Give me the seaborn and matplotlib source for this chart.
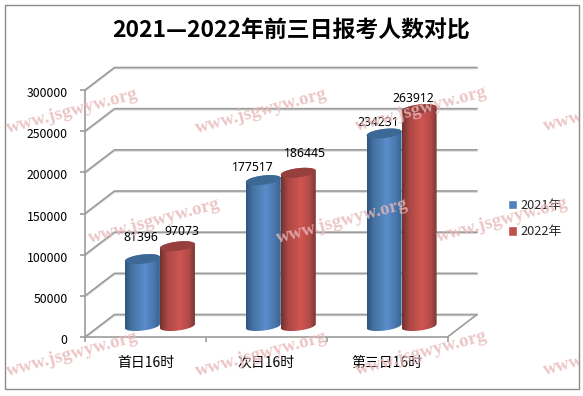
import numpy as np
import pandas as pd
import matplotlib
matplotlib.use("Agg")
import matplotlib.pyplot as plt
from matplotlib.colors import LinearSegmentedColormap
from matplotlib.patches import Polygon, Rectangle
from matplotlib.transforms import IdentityTransform, ScaledTranslation
import seaborn as sns

categories = ["首日16时", "次日16时", "第三日16时"]
years = ["2021年", "2022年"]
values_2021 = [81396, 177517, 234231]
values_2022 = [97073, 186445, 263912]
y_ticks = [0, 50000, 100000, 150000, 200000, 250000, 300000]
title_text = "2021—2022年前三日报考人数对比"
watermark_text = "www.jsgwyw.org"

W, H = 583, 396
sns.set_style("white")
CJK = ["Noto Sans CJK SC", "DejaVu Sans"]
plt.rcParams["font.family"] = CJK

fig = plt.figure(figsize=(W / 100, H / 100), dpi=100, facecolor="white")


def axes_px(x0, x1, ytop, ybot, **kw):
    return fig.add_axes([x0 / W, 1 - ybot / H, (x1 - x0) / W, (ybot - ytop) / H], **kw)


GRID = "#9c9c9c"
GRID2 = "#d6d6d6"
DX, DY = 29.5, 22.5
LW = 1.2

# front plane: the value scale and category scale
ax = axes_px(85, 447.5, 90, 337, zorder=1)
ax.set_xlim(-0.5, 2.5)
ax.set_ylim(0, 300000)
ax.set_facecolor("none")
ax.set_yticks(y_ticks)
ax.set_yticklabels([str(v) for v in y_ticks], fontsize=8.8, color="black")
ax.set_xticks([0, 1, 2])
ax.set_xticklabels(categories, fontsize=10, color="black")
ax.set_xticks([-0.5, 0.5, 1.5, 2.5], minor=True)
ax.tick_params(axis="y", length=3.5, width=LW, color=GRID, pad=9, left=True)
ax.tick_params(axis="x", which="major", length=0, pad=13.5)
ax.tick_params(axis="x", which="minor", length=3.5, width=LW, color=GRID, bottom=True)
for lab in ax.get_yticklabels():
    lab.set_transform(lab.get_transform() + ScaledTranslation(0, -1.5 / 72, fig.dpi_scale_trans))
for s in ("top", "right"):
    ax.spines[s].set_visible(False)
for s in ("left", "bottom"):
    ax.spines[s].set_color(GRID)
    ax.spines[s].set_linewidth(LW)

# receding floor and wall gridlines, derived from the front axes scale
fig.canvas.draw()
for v in y_ticks:
    xl, yv = ax.transData.transform((-0.5, v))
    xr, _ = ax.transData.transform((2.5, v))
    xs = [xl, xl + DX, xr + DX]
    ys = [yv, yv + DY, yv + DY]
    for off, col, zo in ((-1, GRID2, 0), (0, GRID, 1)):
        ax.add_line(plt.Line2D(xs, [y + off for y in ys], color=col, lw=LW, zorder=zo,
                               transform=IdentityTransform(), clip_on=False))
    if v == 0:
        ax.add_line(plt.Line2D([xr, xr + DX], [yv, yv + DY], color=GRID, lw=LW,
                               transform=IdentityTransform(), clip_on=False))

px_x = 3 / 362.5
px_y = 300000 / 246.5
B, TILT = 4.6, 2.0
PAD = 12  # pixels of room under the bars for the rounded bases

# bars sit in a plane half way into the depth of the chart
ax_bar = axes_px(99.5, 462, 79.5, 326 + PAD, zorder=2)
ax_bar.set_facecolor("none")
df = pd.DataFrame({
    "category": categories * 2,
    "year": [years[0]] * 3 + [years[1]] * 3,
    "value": values_2021 + values_2022,
})
BLUE, RED = "#4f81bd", "#c0504d"
sns.barplot(data=df, x="category", y="value", hue="year", palette=[BLUE, RED],
            width=0.58, gap=0, ax=ax_bar, saturation=1, legend=True)
ax_bar.set_xlim(-0.5, 2.5)
ax_bar.set_ylim(-PAD * px_y, 300000)
ax_bar.axis("off")

cm_blue = LinearSegmentedColormap.from_list("b", [(0, "#2c5583"), (0.18, "#44719f"), (0.55, "#5a8dcb"), (0.8, "#4a78ad"), (1, "#33608f")])
cm_red = LinearSegmentedColormap.from_list("r", [(0, "#6f3230"), (0.2, "#ab4744"), (0.55, "#cf5653"), (0.8, "#b34a47"), (1, "#733432")])

# label offsets in pixels from the centre of each cylinder top
offs = {0: [(-2, 22), (-10, 13), (-6, 11)], 1: [(4.5, 15), (7, 19), (-6, 11)]}
bars = [p for p in ax_bar.patches if p.get_height() > 0]
series = [values_2021, values_2022]
grad = np.linspace(0, 1, 128).reshape(1, -1)
for i, p in enumerate(bars):
    s, c = divmod(i, 3)
    x0, a = p.get_x(), p.get_width() / 2
    cx = x0 + a
    val = series[s][c]
    cmap = cm_blue if s == 0 else cm_red
    p.set_visible(False)
    t = np.linspace(0, np.pi, 60)
    ex = a * np.cos(t)
    tilt = TILT * px_y * np.cos(t)
    upper = np.column_stack([cx + ex, val + tilt + B * px_y * np.sin(t)])
    lower = np.column_stack([cx + ex, tilt - B * px_y * np.sin(t)])
    outline = np.vstack([upper, lower[::-1]])
    clip = Polygon(outline, closed=True, transform=ax_bar.transData, fc="none", ec="none")
    ax_bar.add_patch(clip)
    im = ax_bar.imshow(grad, cmap=cmap, aspect="auto", zorder=3 + s,
                       extent=(x0, x0 + 2 * a, -10 * px_y, val + 10 * px_y))
    im.set_clip_path(clip)
    cap_low = np.column_stack([cx + ex, val + tilt - B * px_y * np.sin(t)])
    cap = np.vstack([upper, cap_low[::-1]])
    ax_bar.add_patch(Polygon(cap, closed=True, fc="#3c6895" if s == 0 else "#973f3c", ec="none", zorder=3.5 + s))
    dx, dy = offs[s][c]
    ax_bar.annotate(str(val), xy=(cx, val), xytext=(dx * 0.72, dy * 0.72),
                    textcoords="offset points", ha="center", va="center",
                    fontsize=8.8, color="black", zorder=8, family="Noto Sans")
ax_bar.set_xlim(-0.5, 2.5)
ax_bar.set_ylim(-PAD * px_y, 300000)

sns.move_legend(ax_bar, loc="center left", bbox_to_anchor=(507.5 / W, 1 - 218.5 / H),
                bbox_transform=fig.transFigure, frameon=False, title=None, fontsize=9.2,
                handlelength=0.78, handleheight=0.78, handletextpad=0.2,
                labelspacing=1.05, borderpad=0, borderaxespad=0)

fig.text(291 / W, 1 - 31 / H, title_text, ha="center", va="center", fontsize=16.5,
         fontweight="bold", color="black")

# chart frame
fig.add_artist(Rectangle((4.5 / W, 1 - 389 / H), 574.5 / W, 384.5 / H, transform=fig.transFigure,
                         fc="none", ec="#8c8c8c", lw=1.0))

# watermark layer
ax_w = axes_px(5, 578.5, 5, 388.5, zorder=5)
ax_w.set_xlim(5, 578.5)
ax_w.set_ylim(388.5, 5)
ax_w.axis("off")
starts = [(8, 133), (197, 133), (357, 131), (545, 131),
          (90, 243), (278, 243), (438, 242),
          (8, 376), (197, 376), (357, 375), (545, 375)]
for x, y in starts:
    ax_w.text(x, y, watermark_text, rotation=15, rotation_mode="anchor", ha="left", va="baseline",
              family="Liberation Serif", fontweight="bold", fontsize=13.6, color="#e8b8b8",
              alpha=0.8, clip_on=True)

fig.savefig("out.png", dpi=100, facecolor="white")
